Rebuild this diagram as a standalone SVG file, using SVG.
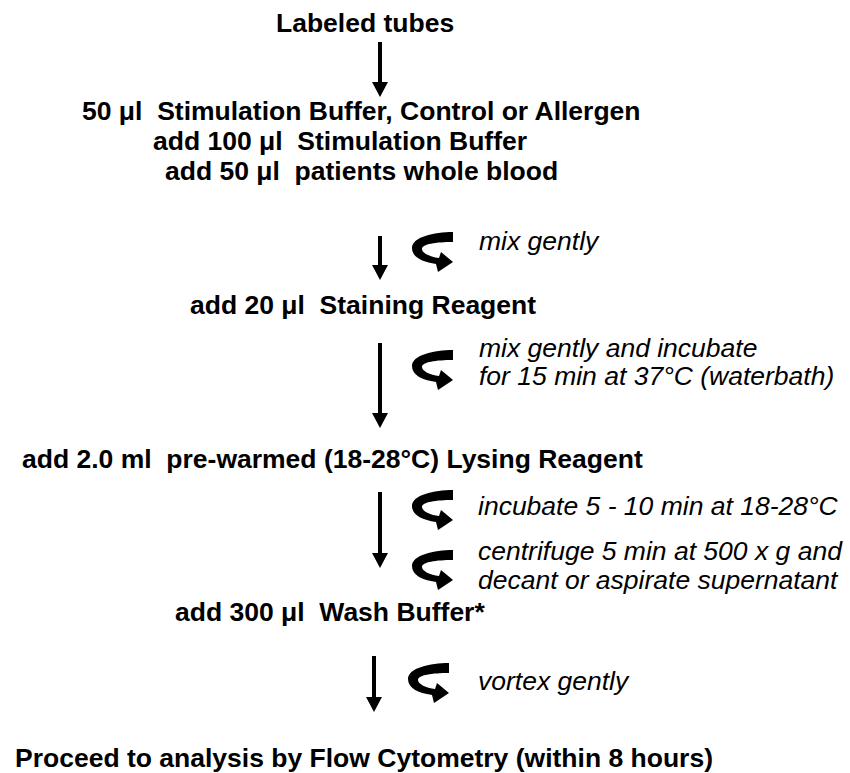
<svg xmlns="http://www.w3.org/2000/svg" xmlns:xlink="http://www.w3.org/1999/xlink" width="850" height="773" viewBox="0 0 850 773">
<style>
.b{font-family:"Liberation Sans",Arial,sans-serif;font-weight:bold;font-size:26.5px;fill:#000;white-space:pre}
.i{font-family:"Liberation Sans",Arial,sans-serif;font-style:italic;font-size:26.5px;fill:#000;white-space:pre}
.ln{stroke:#000;stroke-width:4;fill:none}
</style>
<defs>
<path id="curl" d="M41,0 C22,0 0,5 0,16 C0,25 10,30 24,32 L26,40 L41,30 L29,20 L27,26 C18,25 10,21 10,17 C10,12 24,10 41,10 Z" fill="#000"/>
<path id="head" d="M-8,-15 L8,-15 L0,0 Z" fill="#000"/>
</defs>
<rect width="850" height="773" fill="#fff"/>
<g id="connectors">
<line class="ln" x1="380" y1="42" x2="380" y2="84"/><use xlink:href="#head" x="380" y="97"/>
<line class="ln" x1="380" y1="236" x2="380" y2="267"/><use xlink:href="#head" x="380" y="280"/>
<line class="ln" x1="380" y1="343" x2="380" y2="415"/><use xlink:href="#head" x="380" y="428"/>
<line class="ln" x1="380" y1="492" x2="380" y2="555"/><use xlink:href="#head" x="380" y="568"/>
<line class="ln" x1="374" y1="656" x2="374" y2="699"/><use xlink:href="#head" x="374" y="712"/>
<use xlink:href="#curl" x="412" y="232"/>
<use xlink:href="#curl" x="412" y="350"/>
<use xlink:href="#curl" x="412" y="490"/>
<use xlink:href="#curl" x="412" y="550"/>
<use xlink:href="#curl" x="408" y="663"/>
</g>
<g id="n1"><text class="b" x="276" y="31.7">Labeled tubes</text></g>
<g id="n2">
<text class="b" x="82" y="120">50 μl  Stimulation Buffer, Control or Allergen</text>
<text class="b" x="153" y="150">add 100 μl  Stimulation Buffer</text>
<text class="b" x="165" y="180">add 50 μl  patients whole blood</text>
</g>
<g id="l1"><text class="i" x="479" y="250">mix gently</text></g>
<g id="n3"><text class="b" x="190" y="314">add 20 μl  Staining Reagent</text></g>
<g id="l2">
<text class="i" x="479" y="357">mix gently and incubate</text>
<text class="i" x="479" y="385">for 15 min at 37°C (waterbath)</text>
</g>
<g id="n4"><text class="b" x="22" y="468">add 2.0 ml  pre-warmed (18-28°C) Lysing Reagent</text></g>
<g id="l3"><text class="i" x="478" y="515">incubate 5 - 10 min at 18-28°C</text></g>
<g id="l4">
<text class="i" x="478" y="560">centrifuge 5 min at 500 x g and</text>
<text class="i" x="478" y="589">decant or aspirate supernatant</text>
</g>
<g id="n5"><text class="b" x="175" y="621">add 300 μl  Wash Buffer*</text></g>
<g id="l5"><text class="i" x="478" y="690">vortex gently</text></g>
<g id="n6"><text class="b" x="15" y="767">Proceed to analysis by Flow Cytometry (within 8 hours)</text></g>
</svg>
